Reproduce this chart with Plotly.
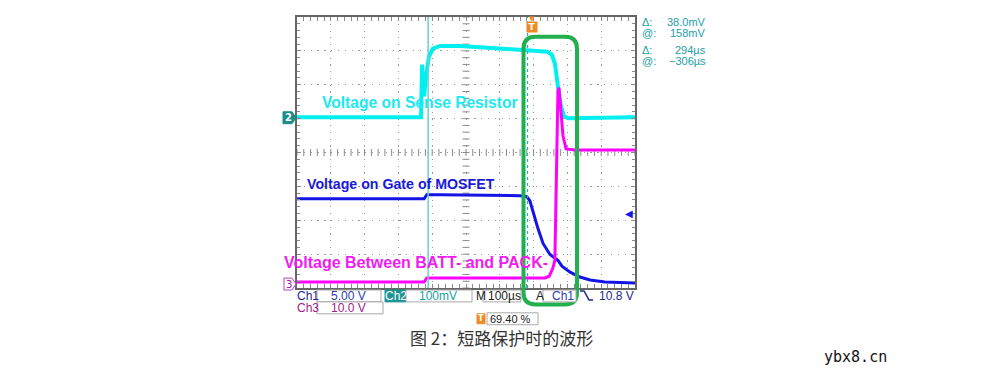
import plotly.graph_objects as go

# ---------------- data ----------------
# time in microseconds relative to the trigger
ch2_t = [-694, -327, -324, -321, -318, -312, -304, -292, -271, -212, -94, 46, 60, 69, 78, 87, 96, 108, 306]
ch2_mv = [1.5, 1.5, 157, 107, 63, 122, 180, 204, 212, 212, 204, 195, 186, 160, 92, 34, 4, -1.5, 1.5]

ch1_t = [-694, -318, -310, -271, -34, -14, -5, 4, 19, 34, 54, 69, 78, 90, 114, 143, 173, 217, 306]
ch1_v = [13.0, 13.0, 13.6, 13.6, 13.45, 13.3, 12.7, 11.1, 8.6, 6.4, 4.8, 4.2, 3.9, 3.05, 2.17, 1.44, 1.0, 0.7, 0.56]

ch3_t = [-694, -318, -310, 40, 52, 63, 69, 72, 75, 78, 81, 87, 93, 102, 128, 306]
ch3_v = [0.6, 0.6, 1.8, 1.8, 2.3, 4.7, 7.0, 24.6, 48.1, 56.9, 58.0, 51.0, 43.7, 39.9, 39.6, 39.6]

# scope settings
ch1_scale, ch1_gnd_div = 5.0, -3.965     # V/div, ground marker position (div)
ch2_scale, ch2_gnd_div = 100.0, 1.026    # mV/div
ch3_scale, ch3_gnd_div = 10.0, -3.883    # V/div
time_per_div = 100.0                      # us/div
trig_pos = 0.694                          # 69.40 %
trig_level = 10.8                         # V on Ch1
cursor1_t = -306.0
cursor_delta_t = 294.0

# readout texts
cursor_labels = ["Δ:", "@:", "Δ:", "@:"]
cursor_values = ["38.0mV", "158mV", "294µs", "−306µs"]

# ---------------- geometry helpers (page pixel -> paper) ----------------
OFF = 8                       # page body margin
L, R, T, B = 297, 635, 15, 288
W_FIG, H_FIG = 1003 - 2 * OFF, 388 - 2 * OFF


def fx(x):
    return (x - L) / (R - L)


def fy(y):
    return (B - y) / (B - T)


def ch_range(scale, gnd):
    return [(-4 - gnd) * scale, (4 - gnd) * scale]


t_left = -trig_pos * 10 * time_per_div
t_right = t_left + 10 * time_per_div

CYAN = "#00f0f0"
BLUE = "#1414e6"
MAG = "#ff00ff"
GREEN = "#22b04e"
TEAL = "#22a0a6"
GRID = "#9a9a9a"
TICK = "#8a8a8a"
RFONT = "Liberation Sans"

fig = go.Figure()

# graticule centre-line cross ticks (every 1/5 division)
cx = [t_left + k * time_per_div / 5 for k in range(51)]
fig.add_trace(go.Scatter(x=cx, y=[0] * len(cx), mode="markers", hoverinfo="skip",
                         marker=dict(symbol="line-ns-open", size=5, color=TICK,
                                     line=dict(color=TICK, width=1))))
cy = [-4 + k * 0.2 for k in range(41)]
tc = t_left + 5 * time_per_div
fig.add_trace(go.Scatter(x=[tc] * len(cy), y=cy, mode="markers", hoverinfo="skip",
                         marker=dict(symbol="line-ew-open", size=5, color=TICK,
                                     line=dict(color=TICK, width=1))))

fig.add_trace(go.Scatter(x=ch2_t, y=ch2_mv, mode="lines", yaxis="y3",
                         line=dict(color=CYAN, width=4), name="Ch2"))
fig.add_trace(go.Scatter(x=ch3_t, y=ch3_v, mode="lines", yaxis="y4",
                         line=dict(color=MAG, width=3), name="Ch3"))
fig.add_trace(go.Scatter(x=ch1_t, y=ch1_v, mode="lines", yaxis="y2",
                         line=dict(color=BLUE, width=3), name="Ch1"))

xgrid_dash = "1.2px,5.56px"
ygrid_dash = "1.2px,5.625px"

fig.update_layout(
    width=W_FIG, height=H_FIG,
    margin=dict(l=L - OFF, r=W_FIG - (R - OFF), t=T - OFF, b=H_FIG - (B - OFF), pad=0),
    paper_bgcolor="white", plot_bgcolor="white",
    showlegend=False,
    xaxis=dict(range=[t_left, t_right], tick0=t_left, dtick=time_per_div,
               showgrid=True, gridcolor=GRID, griddash=xgrid_dash, gridwidth=1,
               showline=True, linecolor="#666666", linewidth=2, mirror="allticks",
               ticks="inside", ticklen=4, tickcolor=TICK, showticklabels=False,
               zeroline=False,
               minor=dict(dtick=time_per_div / 5, tick0=t_left, ticks="inside",
                          ticklen=3, tickcolor=TICK, showgrid=False)),
    yaxis=dict(range=[-4, 4], tick0=-4, dtick=1,
               showgrid=True, gridcolor=GRID, griddash=ygrid_dash, gridwidth=1,
               showline=True, linecolor="#666666", linewidth=2, mirror="allticks",
               ticks="inside", ticklen=4, tickcolor=TICK, showticklabels=False,
               zeroline=False,
               minor=dict(dtick=0.2, tick0=-4, ticks="inside", ticklen=3,
                          tickcolor=TICK, showgrid=False)),
    yaxis2=dict(overlaying="y", range=ch_range(ch1_scale, ch1_gnd_div), visible=False),
    yaxis3=dict(overlaying="y", range=ch_range(ch2_scale, ch2_gnd_div), visible=False),
    yaxis4=dict(overlaying="y", range=ch_range(ch3_scale, ch3_gnd_div), visible=False),
)

shapes = []
annotations = []


def ann(**kw):
    kw.setdefault("xanchor", "center")
    kw.setdefault("yanchor", "middle")
    kw.setdefault("showarrow", False)
    kw.setdefault("xref", "paper")
    kw.setdefault("yref", "paper")
    kw.setdefault("borderpad", 0)
    annotations.append(kw)


# cursors
shapes.append(dict(type="line", xref="x", yref="paper", x0=cursor1_t, x1=cursor1_t,
                   y0=0, y1=1, line=dict(color="#6cd0d0", width=1.5)))
c2 = cursor1_t + cursor_delta_t
shapes.append(dict(type="line", xref="x", yref="paper", x0=c2, x1=c2,
                   y0=0, y1=1, line=dict(color="#20b4b4", width=1.2, dash="3px,3px")))


def P(x, y):
    return f"{fx(x):.5f},{fy(y):.5f}"


def path_px(points, closed=True):
    s = "M " + " L ".join(P(x, y) for x, y in points)
    return s + (" Z" if closed else "")


# green highlight rounded rectangle
x0, x1, y0, y1, r = 523.5, 577.0, 35.0, 304.5, 12.0
green_path = (f"M {P(x0 + r, y0)} L {P(x1 - r, y0)} Q {P(x1, y0)} {P(x1, y0 + r)} "
              f"L {P(x1, y1 - r)} Q {P(x1, y1)} {P(x1 - r, y1)} "
              f"L {P(x0 + r, y1)} Q {P(x0, y1)} {P(x0, y1 - r)} "
              f"L {P(x0, y0 + r)} Q {P(x0, y0)} {P(x0 + r, y0)} Z")
shapes.append(dict(type="path", xref="paper", yref="paper", path=green_path,
                   line=dict(color=GREEN, width=4), layer="above"))

# channel ground markers
gy2 = B - (ch2_gnd_div + 4) * (B - T) / 8
gy3 = B - (ch3_gnd_div + 4) * (B - T) / 8
shapes.append(dict(type="path", xref="paper", yref="paper",
                   path=path_px([(283, gy2 - 6), (292, gy2 - 6), (296, gy2), (292, gy2 + 6), (283, gy2 + 6)]),
                   fillcolor="#1d8c8c", line=dict(color="#1d8c8c", width=1)))
ann(x=fx(288.5), y=fy(gy2), text="<b>2</b>",
    font=dict(family="DejaVu Sans", size=10, color="white"))
shapes.append(dict(type="path", xref="paper", yref="paper",
                   path=path_px([(284, gy3 - 6), (292, gy3 - 6), (296, gy3), (292, gy3 + 6), (284, gy3 + 6)]),
                   fillcolor="white", line=dict(color="#c040c0", width=1)))
ann(x=fx(289), y=fy(gy3), text="3",
    font=dict(family="DejaVu Sans", size=10, color="#a0209a"))

# trigger level arrow (right side) on Ch1 scale
ann(x=1, y=trig_level, yref="y2", text="◀", xanchor="right", xshift=-1,
    font=dict(family="DejaVu Sans", size=10, color=BLUE))

# trigger position marker at top
ann(x=0, y=fy(25), xref="x", text="<b>T</b>", bgcolor="#f08a24",
    width=10, height=10, font=dict(family="DejaVu Sans", size=9, color="white"))
ann(x=0, y=fy(17), xref="x", text="▼",
    font=dict(family="DejaVu Sans", size=7, color="#f08a24"))

# waveform labels
ann(x=fx(321), y=fy(101), xanchor="left", text="<b>Voltage on Sense Resistor</b>",
    font=dict(family="Liberation Sans", size=15.6, color="#20e8f0"))
ann(x=fx(306), y=fy(183), xanchor="left", text="<b>Voltage on Gate of MOSFET</b>",
    font=dict(family="Liberation Sans", size=14.2, color="#1a1ad8"))
ann(x=fx(283), y=fy(262), xanchor="left", text="<b>Voltage Between BATT- and PACK-</b>",
    font=dict(family="Liberation Sans", size=16, color="#f01cf0"))

# cursor readouts on the right
for i, (lab, val) in enumerate(zip(cursor_labels, cursor_values)):
    yy = [20, 31, 48, 59][i]
    ann(x=fx(641), y=fy(yy), xanchor="left", text=lab,
        font=dict(family=RFONT, size=11, color=TEAL))
    ann(x=fx(707), y=fy(yy), xanchor="right", text=val,
        font=dict(family=RFONT, size=11, color=TEAL))

# bottom readout boxes
BOX = "#a8a8a8"


def box(xa, xb, ya, yb, fill="white", line=BOX):
    shapes.append(dict(type="rect", xref="paper", yref="paper",
                       x0=fx(xa), x1=fx(xb), y0=fy(yb), y1=fy(ya),
                       fillcolor=fill, line=dict(color=line, width=1)))


def txt(x, y, s, color, anchor="left", size=12):
    ann(x=fx(x), y=fy(y), xanchor=anchor, text=s,
        font=dict(family=RFONT, size=size, color=color))


r1, r2, r3 = 296, 308, 319
box(317, 381, r1 - 6, r1 + 6)
box(385, 406, r1 - 6, r1 + 6, fill="#1d9494", line="#1d9494")
box(406, 472, r1 - 6, r1 + 6)
box(483, 521, r1 - 6, r1 + 6)
box(543, 576, r1 - 6, r1 + 6)
box(317, 383, r2 - 6, r2 + 6)
box(487, 538, r3 - 6, r3 + 6)

txt(296, r1, "Ch1", "#1c2a8c")
txt(330, r1, "5.00 V", "#2a40b0")
txt(395.5, r1, "Ch2", "white", anchor="center")
txt(418, r1, "100mV", "#1aa0a0")
txt(475, r1, "M", "#202020")
txt(487, r1, "100µs", "#202020")
txt(535, r1, "A", "#202020")
txt(551, r1, "Ch1", "#2a40b0")
txt(635, r1, "10.8 V", "#1c2a8c", anchor="right")
txt(296, r2, "Ch3", "#a0208c")
txt(330, r2, "10.0 V", "#a0208c")
txt(489, r3, "69.40 %", "#202020", size=11)

# falling edge icon
shapes.append(dict(type="path", xref="paper", yref="paper",
                   path=path_px([(580, 291), (584, 291), (589, 300), (593, 300)], closed=False),
                   line=dict(color="#1c2a8c", width=1.5)))

# small trigger-position marker in readout
box(477, 485, r3 - 5, r3 + 5, fill="#f08a24", line="#f08a24")
ann(x=fx(481), y=fy(r3), text="<b>T</b>",
    font=dict(family="DejaVu Sans", size=8, color="white"))

# caption and watermark
ann(x=fx(501), y=fy(338), text="图 2：短路保护时的波形",
    font=dict(family="Noto Sans CJK SC", size=17, color="#333333"))
ann(x=fx(855.5), y=fy(358), text="ybx8.cn",
    font=dict(family="DejaVu Sans Mono", size=15, color="#111111"))

fig.update_layout(shapes=shapes, annotations=annotations)

fig.write_html("out.html")
